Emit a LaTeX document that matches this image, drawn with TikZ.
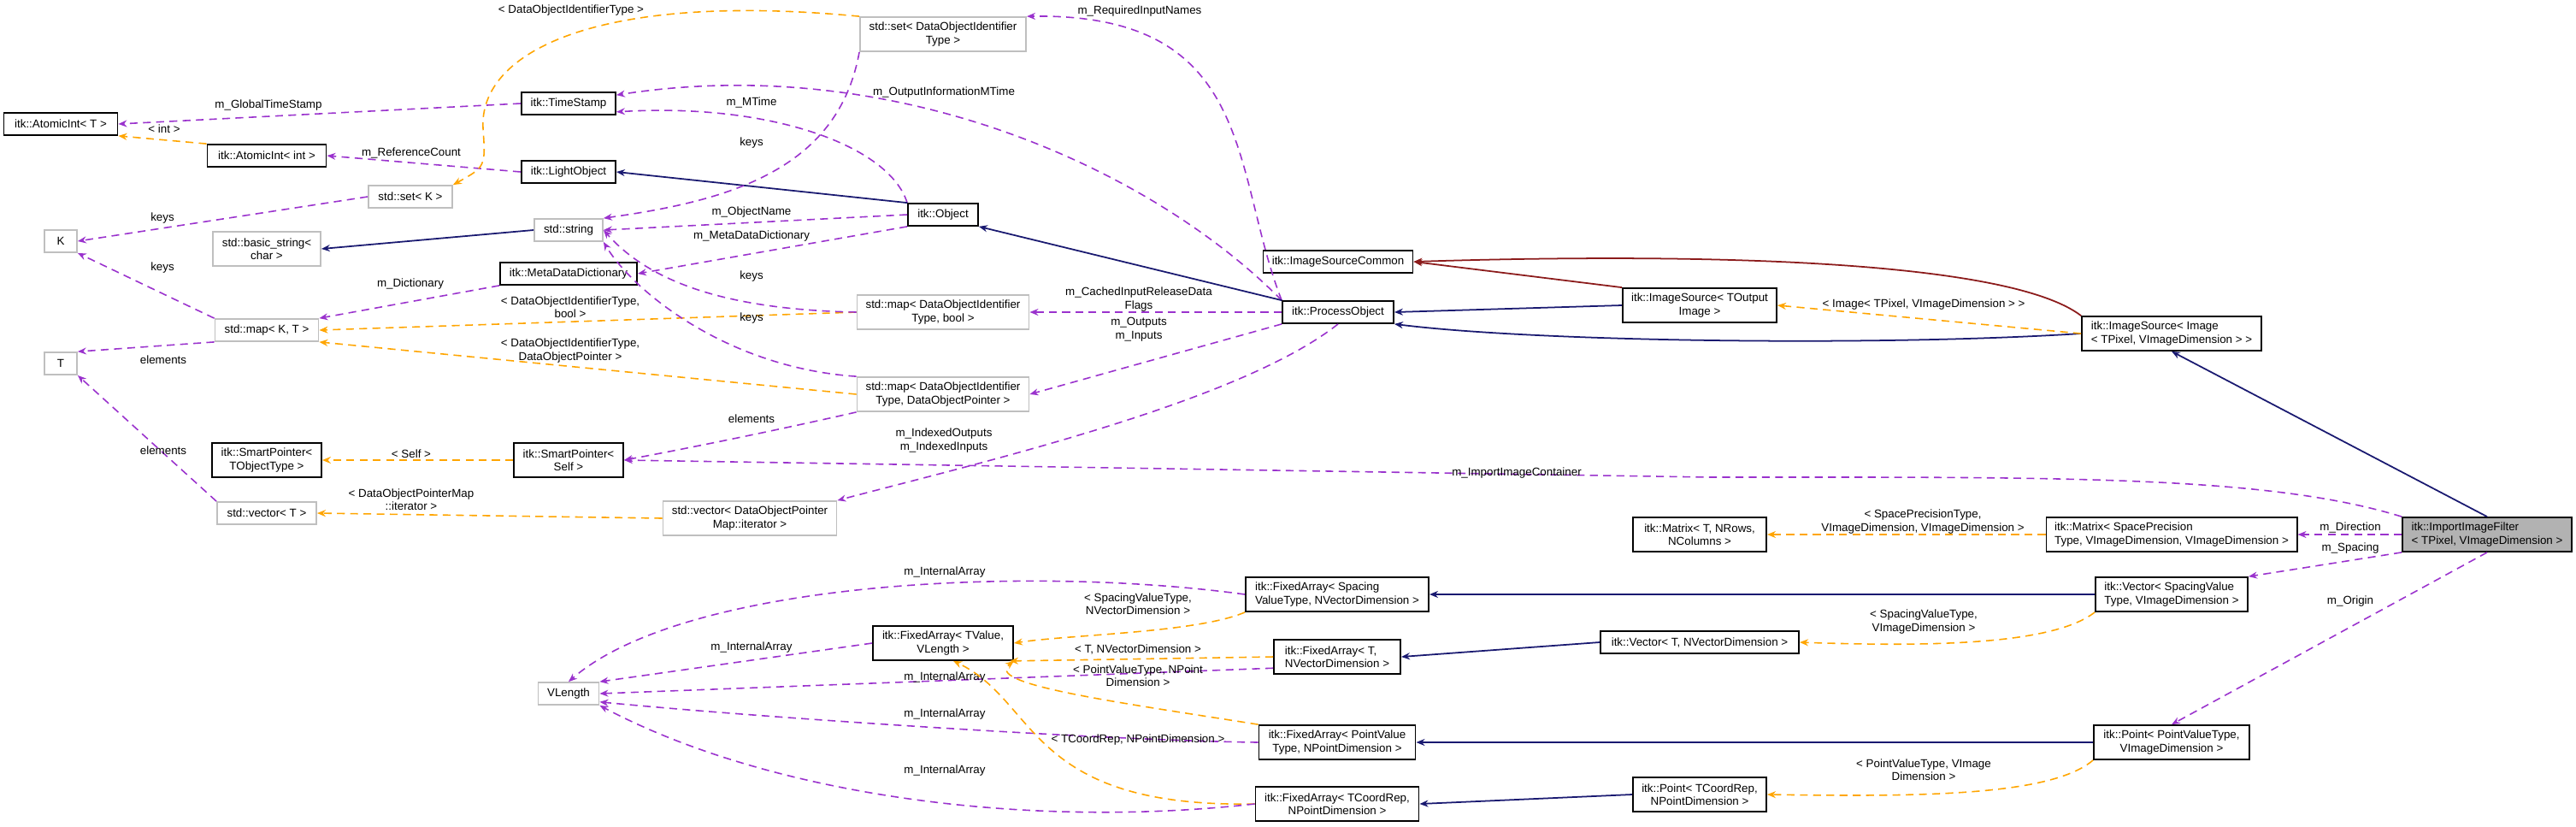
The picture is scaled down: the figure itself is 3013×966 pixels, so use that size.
\documentclass[tikz,border=0pt]{standalone}
\usepackage{fontspec}
\setmainfont{Liberation Sans}
\usetikzlibrary{arrows.meta, positioning}
\definecolor{usecol}{HTML}{9A32CD}
\definecolor{tplcol}{HTML}{FFA500}
\definecolor{inhcol}{HTML}{191970}
\definecolor{protcol}{HTML}{8B1A1A}
\tikzset{
  cls/.style={rectangle, draw=black, line width=0.5pt, fill=white, inner xsep=1.5pt, inner ysep=1pt,
    minimum height=0.26cm, align=center, font=\fontsize{3.8}{4.4}\selectfont},
  ext/.style={cls, draw=black!25},
  hl/.style={cls, fill=black!30},
  two/.style={minimum height=0.4cm},
  lbl/.style={inner sep=0.5pt, align=center, text=black, font=\fontsize{3.8}{4.4}\selectfont},
  use/.style={usecol, line width=0.45pt, dash pattern=on 2.6pt off 1.8pt, ->},
  tpl/.style={tplcol, line width=0.45pt, dash pattern=on 2.6pt off 1.8pt, ->},
  inh/.style={inhcol, line width=0.5pt, ->},
  prot/.style={protcol, line width=0.5pt, ->},
  >={Stealth[length=1mm, width=0.8mm]}
}
\begin{document}
\begin{tikzpicture}[x=0.01cm, y=-0.01cm]
    \useasboundingbox (0,0) rectangle (3013,966);
    % left columns
    \node (ait) [cls, minimum width=1.33cm] at (71,145) {itk::AtomicInt< T >};
    \node (k) [ext, minimum width=0.38cm] at (71,282) {K};
    \node (t) [ext, minimum width=0.38cm] at (71,425) {T};
    \node (aii) [cls, minimum width=1.39cm] at (312,182) {itk::AtomicInt< int >};
    \node (bs) [ext, two, minimum width=1.26cm] at (312,291) {std::basic\_string<\\char >};
    \node (mkt) [ext, minimum width=1.21cm] at (312,386) {std::map< K, T >};
    \node (spt) [cls, two, minimum width=1.28cm] at (312,538) {itk::SmartPointer<\\TObjectType >};
    \node (vt) [ext, minimum width=1.16cm] at (312,600) {std::vector< T >};
    \node (sk) [ext, minimum width=0.98cm] at (480,230) {std::set< K >};
    \node (ts) [cls, minimum width=1.10cm] at (665,121) {itk::TimeStamp};
    \node (lo) [cls, minimum width=1.10cm] at (665,201) {itk::LightObject};
    \node (str) [ext, minimum width=0.80cm] at (665,269) {std::string};
    \node (mdd) [cls, minimum width=1.60cm] at (665,320) {itk::MetaDataDictionary};
    \node (sps) [cls, two, minimum width=1.28cm] at (665,538) {itk::SmartPointer<\\Self >};
    \node (vlen) [ext, minimum width=0.71cm] at (665,811) {VLength};
    \node (vit) [ext, two, minimum width=2.03cm] at (877,606) {std::vector< DataObjectPointer\\Map::iterator >};
    % middle columns
    \node (sdoi) [ext, two, minimum width=1.94cm] at (1103,40) {std::set< DataObjectIdentifier\\Type >};
    \node (obj) [cls, minimum width=0.82cm] at (1103,251) {itk::Object};
    \node (mbool) [ext, two, minimum width=2.01cm] at (1103,365) {std::map< DataObjectIdentifier\\Type, bool >};
    \node (mdop) [ext, two, minimum width=2.01cm] at (1103,461) {std::map< DataObjectIdentifier\\Type, DataObjectPointer >};
    \node (fatv) [cls, two, minimum width=1.64cm] at (1103,752) {itk::FixedArray< TValue,\\VLength >};
    \node (isc) [cls, minimum width=1.75cm] at (1565,306) {itk::ImageSourceCommon};
    \node (po) [cls, minimum width=1.30cm] at (1565,365) {itk::ProcessObject};
    \node (fasp) [cls, two, align=left, minimum width=2.14cm] at (1564,695) {itk::FixedArray< Spacing\\ValueType, NVectorDimension >};
    \node (fatn) [cls, two, align=left, minimum width=1.48cm] at (1564,768) {itk::FixedArray< T,\\NVectorDimension >};
    \node (fapv) [cls, two, minimum width=1.83cm] at (1564,868) {itk::FixedArray< PointValue\\Type, NPointDimension >};
    \node (facr) [cls, two, minimum width=1.91cm] at (1564,940) {itk::FixedArray< TCoordRep,\\NPointDimension >};
    % right columns
    \node (isto) [cls, two, minimum width=1.80cm] at (1988,357) {itk::ImageSource< TOutput\\Image >};
    \node (mtx) [cls, two, minimum width=1.56cm] at (1988,625) {itk::Matrix< T, NRows,\\NColumns >};
    \node (vtn) [cls, minimum width=2.32cm] at (1988,751) {itk::Vector< T, NVectorDimension >};
    \node (ptcr) [cls, two, minimum width=1.56cm] at (1988,929) {itk::Point< TCoordRep,\\NPointDimension >};
    \node (isi) [cls, two, align=left, minimum width=2.10cm] at (2540,390) {itk::ImageSource< Image\\< TPixel, VImageDimension > >};
    \node (msp) [cls, two, align=left, minimum width=2.93cm] at (2540,625) {itk::Matrix< SpacePrecision\\Type, VImageDimension, VImageDimension >};
    \node (vsv) [cls, two, align=left, minimum width=1.78cm] at (2540,695) {itk::Vector< SpacingValue\\Type, VImageDimension >};
    \node (ppv) [cls, two, minimum width=1.82cm] at (2540,868) {itk::Point< PointValueType,\\VImageDimension >};
    \node (iif) [hl, two, align=left, minimum width=1.98cm] at (2909,625) {itk::ImportImageFilter\\< TPixel, VImageDimension >};

    % top left part
    \draw [use] (ts.west) -- (ait.east) node[lbl] at (314,123) {m\_GlobalTimeStamp};
    \draw [tpl] (aii.north west) -- (ait.south east) node[lbl] at (192,151) {< int >};
    \draw [use] (lo.west) -- (aii.east) node[lbl] at (481,179) {m\_ReferenceCount};
    \draw [use] (sk.west) -- (k.east) node[lbl] at (190,255) {keys};
    \draw [tpl] (sdoi.north west) .. controls (700,-10) and (560,60) .. (565,150) .. controls (568,195) .. (sk.north east)
      node[lbl] at (668,12) {< DataObjectIdentifierType >};
    \draw [inh] (str.west) -- (bs.east);
    \draw [use] (mkt.north west) -- (k.south east) node[lbl] at (190,313) {keys};
    \draw [use] (mkt.south west) -- (t.north east) node[lbl] at (191,421) {elements};
    \draw [use] (vt.north west) -- (t.south east) node[lbl] at (191,527) {elements};
    \draw [use] (mdd.south west) -- (mkt.north east) node[lbl] at (480,332) {m\_Dictionary};
    \draw [tpl] (mbool.west) -- (mkt.east) node[lbl] at (667,359) {< DataObjectIdentifierType,\\bool >};
    \draw [tpl] (mdop.west) -- (mkt.south east) node[lbl] at (667,410) {< DataObjectIdentifierType,\\DataObjectPointer >};
    \draw [tpl] (sps.west) -- (spt.east) node[lbl] at (481,531) {< Self >};
    \draw [tpl] (vit.west) -- (vt.east) node[lbl] at (481,584) {< DataObjectPointerMap\\::iterator >};
    % object and process object
    \draw [use] (obj.north west) .. controls (1040,170) and (900,120) .. (ts.-10) node[lbl] at (879,120) {m\_MTime};
    \draw [use] (po.north west) .. controls (1350,200) and (1050,60) .. (ts.10) node[lbl] at (1104,108) {m\_OutputInformationMTime};
    \draw [inh] (obj.north west) -- (lo.east);
    \draw [use] (obj.west) -- (str.east) node[lbl] at (879,248) {m\_ObjectName};
    \draw [use] (obj.south west) -- (mdd.east) node[lbl] at (879,276) {m\_MetaDataDictionary};
    \draw [use] (sdoi.south west) .. controls (980,200) and (850,235) .. (str.north east) node[lbl] at (879,167) {keys};
    \draw [use] (mbool.west) .. controls (850,362) and (760,330) .. (str.east) node[lbl] at (879,323) {keys};
    \draw [use] (mdop.north west) .. controls (850,430) and (740,340) .. (str.south east) node[lbl] at (879,372) {keys};
    \draw [use] (po.north west) .. controls (1440,200) and (1470,15) .. (sdoi.north east) node[lbl] at (1333,13) {m\_RequiredInputNames};
    \draw [inh] (po.north west) -- (obj.south east);
    \draw [use] (po.west) -- (mbool.east) node[lbl] at (1332,350) {m\_CachedInputReleaseData\\Flags};
    \draw [use] (po.south west) -- (mdop.east) node[lbl] at (1332,385) {m\_Outputs\\m\_Inputs};
    \draw [use] (po.south) .. controls (1450,470) and (1150,540) .. (vit.north east) node[lbl] at (1104,515) {m\_IndexedOutputs\\m\_IndexedInputs};
    \draw [use] (mdop.south west) .. controls (900,505) and (800,525) .. (sps.east) node[lbl] at (879,490) {elements};
    % image source part
    \draw [prot] (isto.north west) -- (isc.east);
    \draw [inh] (isto.west) -- (po.east);
    \draw [prot] (isi.north west) .. controls (2350,305) and (2000,295) .. (isc.east);
    \draw [inh] (isi.west) .. controls (2200,405) and (1800,400) .. (po.south east);
    \draw [tpl] (isi.west) -- (isto.east) node[lbl] at (2250,356) {< Image< TPixel, VImageDimension > >};
    \draw [inh] (iif.north) -- (isi.south);
    \draw [use] (iif.north west) .. controls (2650,555) and (2400,558) .. (2000,558) -- (sps.east)
      node[lbl] at (1774,553) {m\_ImportImageContainer};
    % matrix, vector, point
    \draw [use] (iif.west) -- (msp.east) node[lbl] at (2749,617) {m\_Direction};
    \draw [tpl] (msp.west) -- (mtx.east) node[lbl] at (2249,610) {< SpacePrecisionType,\\VImageDimension, VImageDimension >};
    \draw [use] (iif.south west) -- (vsv.north east) node[lbl] at (2749,641) {m\_Spacing};
    \draw [use] (iif.south) -- (ppv.north) node[lbl] at (2749,703) {m\_Origin};
    \draw [inh] (vsv.west) -- (fasp.east);
    \draw [tpl] (vsv.south west) .. controls (2400,755) and (2250,756) .. (vtn.east) node[lbl] at (2250,727) {< SpacingValueType,\\VImageDimension >};
    \draw [inh] (vtn.west) -- (fatn.east);
    \draw [inh] (ppv.west) -- (fapv.east);
    \draw [tpl] (ppv.south west) .. controls (2400,930) and (2250,932) .. (ptcr.east) node[lbl] at (2250,900) {< PointValueType, VImage\\Dimension >};
    \draw [inh] (ptcr.west) -- (facr.east);
    % fixed arrays
    \draw [use] (fasp.west) .. controls (1200,660) and (800,680) .. (vlen.north) node[lbl] at (1105,669) {m\_InternalArray};
    \draw [tpl] (fasp.south west) .. controls (1400,740) and (1250,742) .. (fatv.east) node[lbl] at (1331,706) {< SpacingValueType,\\NVectorDimension >};
    \draw [use] (fatv.west) -- (vlen.north east) node[lbl] at (879,757) {m\_InternalArray};
    \draw [tpl] (fatn.west) -- (fatv.-15) node[lbl] at (1331,759) {< T, NVectorDimension >};
    \draw [use] (fatn.-170) -- (vlen.east) node[lbl] at (1105,792) {m\_InternalArray};
    \draw [tpl] (fapv.north west) .. controls (1300,820) and (1150,800) .. (fatv.south east) node[lbl] at (1331,790) {< PointValueType, NPoint\\Dimension >};
    \draw [use] (fapv.west) .. controls (1300,866) and (900,840) .. (vlen.-15) node[lbl] at (1105,835) {m\_InternalArray};
    \draw [tpl] (facr.west) .. controls (1200,945) and (1215,820) .. (fatv.-60) node[lbl] at (1331,865) {< TCoordRep, NPointDimension >};
    \draw [use] (facr.west) .. controls (1200,970) and (900,930) .. (vlen.south east) node[lbl] at (1105,901) {m\_InternalArray};
\end{tikzpicture}
\end{document}
